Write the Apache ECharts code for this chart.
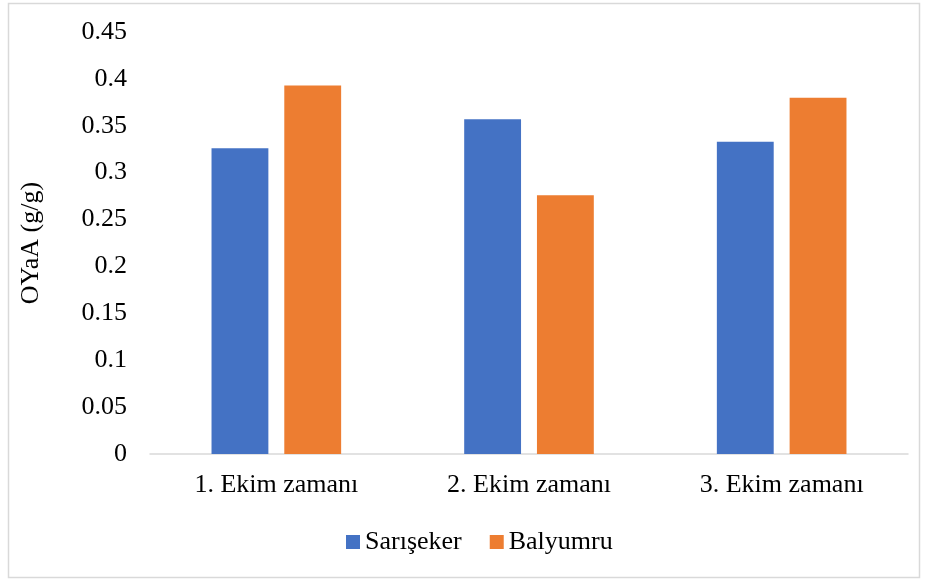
<!DOCTYPE html>
<html>
<head>
<meta charset="utf-8">
<title>OYaA</title>
<style>
  html, body { margin: 0; padding: 0; background: #fff; }
  #chart { width: 928px; height: 581px; }
</style>
<script src="https://cdn.jsdelivr.net/npm/echarts@6/dist/echarts.min.js"></script>
</head>
<body>
<div id="chart"></div>
<script>
  // data
  var categories = ['1. Ekim zamanı', '2. Ekim zamanı', '3. Ekim zamanı'];
  var sariseker = [0.326, 0.357, 0.333];
  var balyumru = [0.393, 0.276, 0.380];

  var font = '"Liberation Serif", "Times New Roman", serif';

  var chart = echarts.init(document.getElementById('chart'));
  chart.setOption({
    textStyle: { fontFamily: font },
    graphic: [{
      type: 'rect',
      shape: { x: 8.5, y: 3.5, width: 911, height: 574 },
      style: { fill: 'none', stroke: '#d9d9d9', lineWidth: 1.5 },
      silent: true
    }],
    legend: {
      data: ['Sarışeker', 'Balyumru'],
      left: 341,
      top: 524,
      itemWidth: 14,
      itemHeight: 14,
      itemGap: 28,
      icon: 'rect',
      textStyle: { fontFamily: font, fontSize: 26, color: '#000' }
    },
    grid: { left: 150, right: 20, top: 32, bottom: 127 },
    xAxis: {
      type: 'category',
      data: categories,
      axisLine: { lineStyle: { color: '#d9d9d9', width: 1.5 } },
      axisTick: { show: false },
      axisLabel: { fontFamily: font, fontSize: 26, color: '#000', margin: 18 }
    },
    yAxis: {
      type: 'value',
      min: 0,
      max: 0.45,
      interval: 0.05,
      name: 'OYaA (g/g)',
      nameLocation: 'middle',
      nameGap: 106,
      nameTextStyle: { fontFamily: font, fontSize: 26, color: '#000' },
      axisLine: { show: false },
      axisTick: { show: false },
      splitLine: { show: false },
      axisLabel: {
        fontFamily: font, fontSize: 26, color: '#000', margin: 23,
        formatter: function (v) { return String(+v.toFixed(2)); }
      }
    },
    series: [
      {
        name: 'Sarışeker',
        type: 'bar',
        data: sariseker,
        barWidth: '22.5%',
        barGap: '28%',
        itemStyle: { color: '#4472C4' }
      },
      {
        name: 'Balyumru',
        type: 'bar',
        data: balyumru,
        barWidth: '22.5%',
        itemStyle: { color: '#ED7D31' }
      }
    ]
  });
</script>
</body>
</html>
